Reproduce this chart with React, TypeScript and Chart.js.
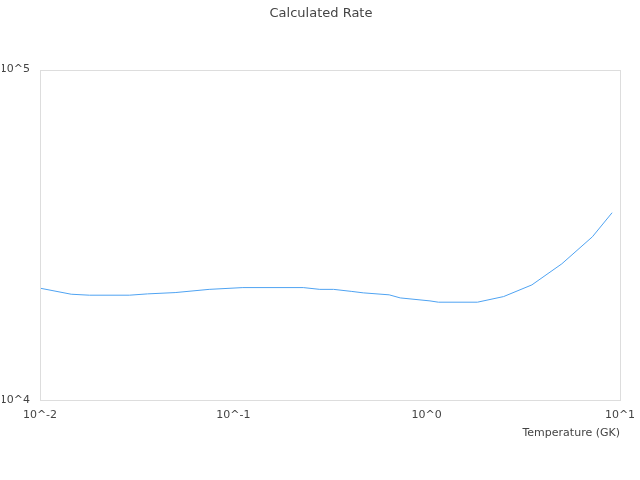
import React, { useEffect, useRef } from "react";
import { Chart, registerables } from "chart.js";

Chart.register(...registerables);

const temperatures = [0.01, 0.0145, 0.018, 0.029, 0.036, 0.05, 0.075, 0.112, 0.23, 0.28, 0.33, 0.41, 0.47, 0.64, 0.73, 1.04, 1.15, 1.83, 2.5, 3.5, 5.0, 7.2, 9.1];
const rates = [21800, 20900, 20760, 20760, 20950, 21140, 21620, 21890, 21890, 21620, 21620, 21310, 21100, 20810, 20370, 19950, 19770, 19770, 20560, 22300, 25830, 31190, 36880];
const xTickValues = [0.01, 0.1, 1, 10];
const xTickLabels = ["10^-2", "10^-1", "10^0", "10^1"];
const yTickValues = [10000, 100000];
const yTickLabels = ["10^4", "10^5"];

const chartTitle = "Calculated Rate";
const xTitle = "Temperature (GK)";

const frame = {
  id: "frame",
  afterDraw(chart: any) {
    const { ctx, chartArea } = chart;
    ctx.save();
    ctx.strokeStyle = "#dddddd";
    ctx.lineWidth = 1;
    ctx.strokeRect(
      Math.round(chartArea.left) + 0.5,
      Math.round(chartArea.top) + 0.5,
      Math.round(chartArea.right - chartArea.left),
      Math.round(chartArea.bottom - chartArea.top)
    );
    ctx.restore();
  },
};

export default function App() {
  const ref = useRef<HTMLCanvasElement | null>(null);
  useEffect(() => {
    if (!ref.current) return;
    const n = Math.min(temperatures.length, rates.length);
    const points = [];
    for (let i = 0; i < n; i++) points.push({ x: temperatures[i], y: rates[i] });
    const chart = new Chart(ref.current, {
      type: "line",
      data: {
        datasets: [
          {
            data: points,
            borderColor: "#4fa3f2",
            borderWidth: 1,
            pointRadius: 0,
            fill: false,
            tension: 0,
          },
        ],
      },
      options: {
        animation: false,
        responsive: false,
        devicePixelRatio: 1,
        layout: { padding: { left: 2, right: 0, top: 0, bottom: 36.6 } },
        plugins: {
          legend: { display: false },
          tooltip: { enabled: false },
          title: {
            display: true,
            text: chartTitle,
            color: "#444444",
            font: { family: "DejaVu Sans", size: 13, weight: "normal" },
            padding: { top: 6, bottom: 48 },
          },
        },
        scales: {
          x: {
            type: "logarithmic",
            min: 0.01,
            max: 10,
            afterBuildTicks: (scale: any) => {
              scale.ticks = xTickValues.map((v) => ({ value: v }));
            },
            afterFit: (scale: any) => {
              scale.height = 43.4;
              scale.paddingLeft = 0;
              scale.paddingRight = 20;
            },
            ticks: {
              autoSkip: false,
              maxRotation: 0,
              padding: 9,
              color: "#444444",
              font: { family: "DejaVu Sans", size: 11 },
              callback: (v: any) => {
                const i = xTickValues.findIndex((t) => Math.abs(t - Number(v)) < 1e-9);
                return i >= 0 ? xTickLabels[i] : "";
              },
            },
            grid: { display: false, drawTicks: false },
            border: { display: false },
            title: {
              display: true,
              text: xTitle,
              align: "end",
              color: "#444444",
              font: { family: "DejaVu Sans", size: 11 },
              padding: { top: 0, bottom: 4 },
            },
          },
          y: {
            type: "logarithmic",
            min: 10000,
            max: 100000,
            afterBuildTicks: (scale: any) => {
              scale.ticks = yTickValues.map((v) => ({ value: v }));
            },
            afterFit: (scale: any) => {
              scale.width = 38;
              scale.paddingTop = 0;
              scale.paddingBottom = 0;
            },
            ticks: {
              autoSkip: false,
              padding: 10,
              color: "#444444",
              font: { family: "DejaVu Sans", size: 11 },
              callback: (v: any) => {
                const i = yTickValues.findIndex((t) => Math.abs(t - Number(v)) < 1e-6);
                return i >= 0 ? yTickLabels[i] : "";
              },
            },
            grid: { display: false, drawTicks: false },
            border: { display: false },
          },
        },
      },
      plugins: [frame],
    });
    return () => chart.destroy();
  }, []);
  return (
    <div style={{ position: "absolute", left: 0, top: 0, width: 640, height: 480, background: "#ffffff" }}>
      <canvas ref={ref} width={640} height={480} style={{ display: "block" }} />
    </div>
  );
}
